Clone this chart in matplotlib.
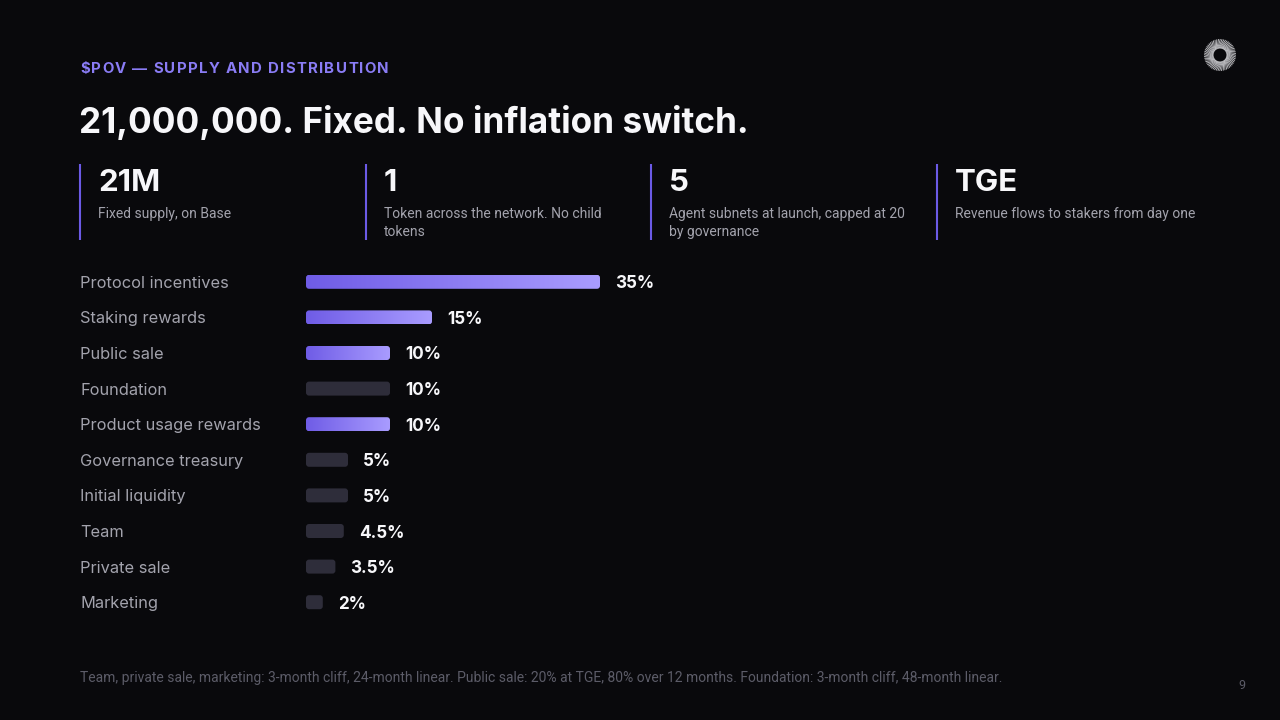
import numpy as np
import matplotlib.pyplot as plt
from matplotlib.patches import FancyBboxPatch
from matplotlib.colors import LinearSegmentedColormap
from matplotlib.font_manager import FontProperties
from matplotlib import transforms

# data
categories = ["Protocol incentives", "Staking rewards", "Public sale", "Foundation",
              "Product usage rewards", "Governance treasury", "Initial liquidity",
              "Team", "Private sale", "Marketing"]
shares = [35, 15, 10, 10, 10, 5, 5, 4.5, 3.5, 2]
highlighted = [True, True, True, False, True, False, False, False, False, False]

stat_values = ["21M", "1", "5", "TGE"]
stat_notes = ["Fixed supply, on Base",
              "Token across the network. No child\ntokens",
              "Agent subnets at launch, capped at 20\nby governance",
              "Revenue flows to stakers from day one"]

kicker = "$POV \u2014 SUPPLY AND DISTRIBUTION"
title = "21,000,000. Fixed. No inflation switch."
footnote = ("Team, private sale, marketing: 3-month cliff, 24-month linear. "
            "Public sale: 20% at TGE, 80% over 12 months. "
            "Foundation: 3-month cliff, 48-month linear.")
page_no = "9"

# style
BG = "#09090c"
WHITE = "#f7f7fa"
LABEL = "#a3a3ad"
MUTED = "#5c5c68"
PURPLE = "#8a7cf5"
LINE = "#6b5ae6"
DARK_BAR = "#2e2d3a"
grad = LinearSegmentedColormap.from_list("grad", ["#6f5ce6", "#a99cff"])
SANS = ["Inter", "DejaVu Sans"]
SMALL = ["Roboto", "DejaVu Sans"]

W, H = 1280, 720
fig = plt.figure(figsize=(12.8, 7.2), dpi=100, facecolor=BG)


def fx(x):
    return x / W


def fy(y):
    return 1 - y / H


# overlay for decorations in pixel coordinates
deco = fig.add_axes([0, 0, 1, 1])
deco.set_xlim(0, W)
deco.set_ylim(H, 0)
deco.axis("off")

# kicker with letter spacing
renderer = fig.canvas.get_renderer()
kp = FontProperties(family=SANS, weight="bold", size=10.8)
widths = [renderer.get_text_width_height_descent(c, kp, ismath=False)[0] for c in kicker]
track = (309 - sum(widths)) / (len(kicker) - 1)
x = 80
for c, w in zip(kicker, widths):
    fig.text(fx(x), fy(73), c, fontproperties=kp, color=PURPLE, va="baseline")
    x += w + track

fig.text(fx(79), fy(133), title, family=SANS, weight="bold", size=25.3,
         color=WHITE, va="baseline")

# stat columns
col_x = [80, 366, 651, 937]
for cx, val, note in zip(col_x, stat_values, stat_notes):
    deco.plot([cx, cx], [164, 240], color=LINE, lw=1.5, solid_capstyle="butt")
    fig.text(fx(cx + 18), fy(191), val, family=SANS, weight="bold", size=22.5,
             color=WHITE, va="baseline")
    fig.text(fx(cx + 18), fy(207), note, family=SMALL, size=10,
             color=LABEL, va="top", linespacing=1.4)

# logo
ang = np.linspace(0, 2 * np.pi, 56, endpoint=False)
for a in ang:
    deco.plot([1220 + 7 * np.cos(a), 1220 + 15.5 * np.cos(a + 0.35)],
              [55 + 7 * np.sin(a), 55 + 15.5 * np.sin(a + 0.35)],
              color="#d8d8dc", lw=0.7, alpha=0.85)

# bars
x_px = 8.4   # pixels per percent
row_px = 35.6
n = len(categories)
ax = fig.add_axes([fx(306), fy(264 + row_px * n), 40 * x_px / W, row_px * n / H])
ax.set_facecolor("none")
ax.axis("off")
bh = 14 / row_px
r = 3 / x_px
asp = x_px / row_px
label_tr = transforms.blended_transform_factory(fig.transFigure, ax.transData)

for i, (cat, v, hi) in enumerate(zip(categories, shares, highlighted)):
    patch = FancyBboxPatch((0, i - bh / 2), v, bh,
                           boxstyle=f"round,pad=0,rounding_size={r}",
                           mutation_aspect=asp, lw=0,
                           facecolor="none" if hi else DARK_BAR)
    ax.add_patch(patch)
    if hi:
        im = ax.imshow(np.linspace(0, 1, 256)[None, :], cmap=grad, aspect="auto",
                       extent=(0, v, i - bh / 2, i + bh / 2), interpolation="bilinear")
        im.set_clip_path(patch)
    ax.annotate(f"{v:g}%", xy=(v, i), xytext=(15, 0), textcoords="offset pixels",
                va="center_baseline", ha="left", family=SANS, weight="bold",
                size=12.3, color=WHITE)
    ax.text(fx(80), i, cat, transform=label_tr, va="center_baseline", ha="left",
            family=SANS, size=11.8, color=LABEL)

ax.set_xlim(0, 40)
ax.set_ylim(n - 0.5, -0.5)

fig.text(fx(80), fy(682), footnote, family=SMALL, size=10, color=MUTED, va="baseline")
fig.text(fx(1238), fy(689), page_no, family=SMALL, size=9, color=MUTED, va="baseline")

fig.savefig("out.png", dpi=100, facecolor=BG)
